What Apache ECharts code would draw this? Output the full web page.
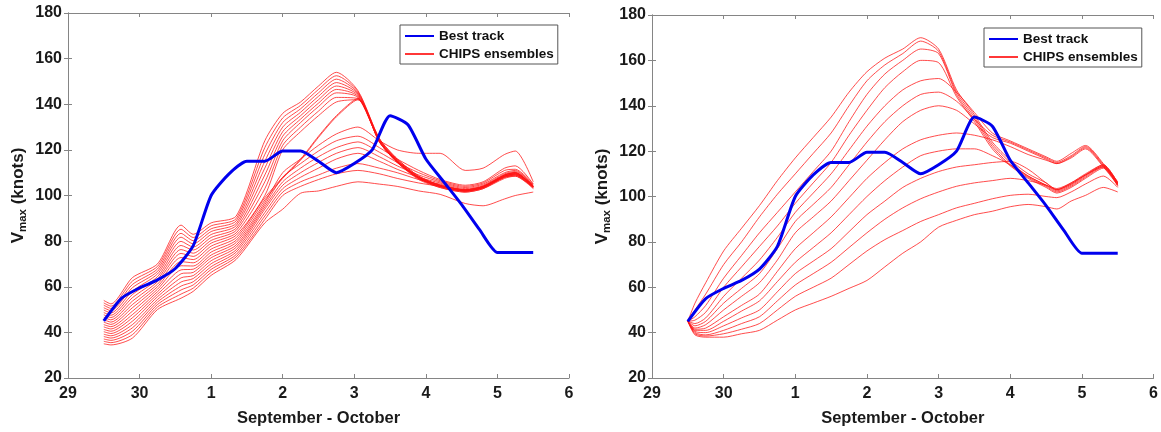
<!DOCTYPE html>
<html>
<head>
<meta charset="utf-8">
<script src="https://cdn.jsdelivr.net/npm/echarts@6/dist/echarts.min.js"></script>
<style>
html,body{margin:0;padding:0;background:#fff;}
#chart{width:1161px;height:432px;}
</style>
</head>
<body>
<div id="chart"></div>
<script>
// x values are days since 29 September 00:00
const X_TICK_LABELS = ['29', '30', '1', '2', '3', '4', '5', '6'];
const X_TITLE = 'September - October';

// Best track (same in both panels)
const BEST_T = [0.5, 0.75, 1.0, 1.25, 1.5, 1.75, 2.0, 2.25, 2.5, 2.75, 3.0, 3.25, 3.5, 3.75, 4.0, 4.25, 4.5, 4.75, 5.0, 5.25, 5.5, 5.75, 6.0, 6.25, 6.5];
const BEST_V = [45, 55, 59.5, 63, 68, 78, 100, 109.5, 115, 115, 119.5, 119.5, 115, 110, 114, 120, 135, 131, 116, 106, 96, 85, 75, 75, 75];

// Left panel CHIPS ensembles
const LEFT_T = [0.5, 0.6, 0.9, 1.25, 1.58, 1.75, 2.0, 2.35, 2.75, 3.0, 3.25, 3.5, 3.75, 4.05, 4.35, 4.6, 4.9, 5.2, 5.55, 5.8, 6.1, 6.25, 6.5];
const LEFT_RUNS = [
  [54, 52.5, 64, 70, 87, 83, 88, 91, 124, 136, 141, 148, 154, 146, 125, 116, 108.5, 104.5, 102.5, 104, 109, 110, 104],
  [52.9, 51.5, 62.5, 68.9, 85.2, 81.6, 86.7, 89.9, 121, 134, 139.5, 146.5, 152.5, 145.5, 125, 116, 108.5, 104.5, 102.5, 104, 109, 110, 104],
  [51.9, 50.5, 61, 67.8, 83.4, 80.2, 85.4, 88.9, 118, 132, 138, 145, 151, 145, 124.5, 115.5, 108, 104.5, 102.5, 104, 108.5, 109.5, 104],
  [50.8, 49.5, 59.6, 66.7, 81.7, 78.8, 84.2, 87.8, 115, 130, 136.5, 143.5, 149.5, 144.5, 124.5, 115.5, 108, 104, 102, 103.5, 108.5, 109.5, 104],
  [49.8, 48.5, 58.1, 65.6, 79.9, 77.4, 82.9, 86.8, 112, 128, 135, 142, 148, 144, 124, 115, 108, 104, 102, 103.5, 108.5, 109, 103.5],
  [48.7, 47.5, 56.6, 64.4, 78.1, 76.1, 81.6, 85.7, 109, 126, 133.5, 140.5, 146.5, 143.5, 124, 115, 107.5, 104, 102, 103.5, 108, 109, 103.5],
  [47.7, 46.5, 55.2, 63.3, 76.3, 74.7, 80.3, 84.7, 106, 124, 132, 139, 145, 143, 124, 115, 107.5, 104, 102, 103.5, 108, 109, 103.5],
  [46.6, 45.5, 53.7, 62.2, 74.6, 73.3, 79.1, 83.6, 103, 122, 130, 137, 143, 142.5, 123.5, 114.5, 107.5, 103.5, 101.5, 103, 108, 108.5, 103.5],
  [45.6, 44.5, 52.2, 61.1, 72.8, 71.9, 77.8, 82.6, 100, 120, 128, 135, 141, 142, 123.5, 114.5, 107, 103.5, 101.5, 103, 107.5, 108.5, 103],
  [44.5, 43.5, 50.8, 60, 71, 70.5, 76.5, 81.5, 99, 108, 116, 126, 135, 142.5, 124, 115, 108, 104.5, 102.5, 104, 109, 110, 104],
  [43.4, 42.5, 49.3, 58.9, 69.2, 69.1, 75.2, 80.4, 98, 107.5, 115.5, 125.5, 134.5, 142, 123.5, 114.5, 107.5, 104, 102, 103.5, 108.5, 109.5, 104],
  [42.4, 41.5, 47.8, 57.8, 67.4, 67.7, 73.9, 79.4, 97, 110, 116, 122, 127, 130, 124, 120, 118.5, 118.5, 111, 112, 118, 119.5, 106],
  [41.3, 40.5, 46.4, 56.7, 65.7, 66.3, 72.7, 78.3, 96, 108, 114, 119.5, 124, 126, 121, 116, 111, 107, 104.5, 106, 112, 113, 105],
  [40.3, 39.5, 44.9, 55.6, 63.9, 64.9, 71.4, 77.3, 95, 106, 112, 117, 121, 123.5, 119, 114.5, 110, 106.5, 104, 105.5, 111, 111.5, 105],
  [39.2, 38.5, 43.4, 54.4, 62.1, 63.6, 70.1, 76.2, 94, 104.5, 110, 114.5, 118.5, 121, 117, 113, 109, 106, 103.5, 105, 110, 111, 104.5],
  [38.2, 37.5, 42, 53.3, 60.3, 62.2, 68.8, 75.2, 92.5, 103, 108, 112, 116, 118.5, 115, 111.5, 108, 105.5, 103, 104.5, 109.5, 110.5, 104.5],
  [37.1, 36.5, 40.5, 52.2, 58.6, 60.8, 67.6, 74.1, 91, 101.5, 106, 109, 112, 114, 112, 110, 107, 105, 102.5, 104, 109, 110, 104],
  [36.1, 35.5, 39, 51.1, 56.8, 59.4, 66.3, 73.1, 89.5, 100, 104, 107, 109.5, 111, 109.5, 107.5, 105.5, 104, 102, 103.5, 108.5, 109.5, 104],
  [35, 34.5, 37.5, 50, 55, 58, 65, 72, 88, 94, 101, 102, 104, 106, 105, 104, 102, 100.5, 96.5, 95.5, 98.5, 100, 101.5]
];

// Right panel CHIPS ensembles
const RIGHT_T = [0.5, 0.6, 0.75, 1.0, 1.25, 1.5, 1.75, 2.0, 2.25, 2.5, 2.75, 3.0, 3.25, 3.5, 3.75, 4.0, 4.25, 4.5, 4.75, 5.0, 5.25, 5.5, 5.65, 5.85, 6.05, 6.3, 6.5];
const RIGHT_RUNS = [
  [45, 53, 62, 76, 86, 96, 107, 117, 126, 135, 146, 155, 161, 165, 170, 165, 147, 136, 124, 116, 110, 106, 103, 105.5, 109.5, 114, 106],
  [45, 50, 57, 70, 80, 91, 101, 110, 119, 128, 140, 151, 158, 163, 168.5, 164, 146, 135, 123, 115, 109, 105, 102.5, 105, 109, 113.5, 105.5],
  [45, 47, 52, 64, 74, 84, 93, 102, 111, 120, 133, 145, 154, 160, 165, 163, 145, 134, 122, 114, 108.5, 104.5, 102, 104.5, 108.5, 113, 105],
  [45, 45.5, 49, 60, 69, 78, 87, 97, 106, 115, 127, 138, 148, 155, 160, 159, 144, 133, 121, 113.5, 108, 104, 101.5, 104, 108, 112.5, 104.5],
  [45, 44, 46.5, 56, 64, 72, 82, 93, 101.5, 110, 120.5, 131, 140, 147, 151, 152, 146, 137, 128, 124.5, 121, 117.5, 115.5, 119, 122.5, 114.5, 106.5],
  [45, 43, 45, 53, 59.5, 66, 77, 89, 96.5, 104, 114, 124, 133, 140, 145, 146, 142, 134, 127, 124, 120.5, 117, 115, 118, 122, 114, 106],
  [45, 42, 43.5, 50, 56, 62, 72, 84, 91, 98, 107, 116, 125, 133, 138, 140, 138, 132, 126, 123.5, 120, 116.5, 114.5, 117.5, 121.5, 113.5, 105.5],
  [45, 41.5, 42, 47, 52, 57, 67, 77, 84, 91, 99.5, 108, 115, 121, 125, 127, 128, 127, 125, 122, 118.5, 116, 114.5, 117, 121, 113, 105],
  [45, 41, 41, 45, 49.5, 54, 62.5, 71, 77.5, 84, 92, 100, 107, 113, 118, 120, 121, 121, 118, 114, 109, 105, 103, 106, 110, 114, 106],
  [45, 40.5, 40, 43, 46.5, 50, 58, 66, 71.5, 77, 84.5, 92, 98, 104, 108, 111, 113, 114, 115, 115.5, 112, 106, 103, 105.5, 109.5, 113.5, 105.5],
  [45, 40, 39, 41, 44, 47, 54, 61, 66, 71, 77.5, 84, 90, 95, 99, 102, 104.5, 106, 107, 108, 107, 105, 103.5, 106, 109.5, 113, 105],
  [45, 39.5, 38.5, 39.5, 41.5, 44, 50, 56, 60, 64, 70, 76, 81, 85, 89, 92, 95, 97, 99, 100.5, 101, 100, 99.5, 102, 105.5, 109, 104],
  [45, 39, 38, 38, 39.5, 41, 45.5, 50, 53, 56, 59.5, 63, 69, 75, 80, 86.5, 89.5, 92, 93.5, 95.5, 96.5, 95.5, 94.5, 98, 100.5, 104, 102]
];

const FONT = '"Liberation Sans", Arial, sans-serif';
const AXIS_GRAY = '#858585';
const RED = 'rgba(255,20,20,0.85)';
const BLUE = '#0000ee';

function pairs(T, V) { return T.map((t, i) => [t, V[i]]); }

function xAxes(gridIndex) {
  return [
    {
      type: 'value', gridIndex, min: 0, max: 7, interval: 1,
      name: X_TITLE, nameLocation: 'middle', nameGap: 32,
      nameTextStyle: { fontFamily: FONT, fontWeight: 'bold', fontSize: 16.5, color: '#1a1a1a' },
      axisLine: { show: true, lineStyle: { color: AXIS_GRAY, width: 1 } },
      axisTick: { show: true, inside: true, length: 4, lineStyle: { color: AXIS_GRAY } },
      axisLabel: { fontFamily: FONT, fontWeight: 'bold', fontSize: 16, color: '#1a1a1a', margin: 8,
        formatter: v => X_TICK_LABELS[Math.round(v)] },
      splitLine: { show: false }
    },
    {
      type: 'value', gridIndex, position: 'top', min: 0, max: 7, interval: 1,
      axisLine: { show: true, lineStyle: { color: AXIS_GRAY, width: 1 } },
      axisTick: { show: true, inside: true, length: 4, lineStyle: { color: AXIS_GRAY } },
      axisLabel: { show: false }, splitLine: { show: false }
    }
  ];
}
function yAxes(gridIndex) {
  return [
    {
      type: 'value', gridIndex, min: 20, max: 180, interval: 20,
      name: '{a|V}{b|max}{a| (knots)}', nameLocation: 'middle', nameRotate: 90, nameGap: 39,
      nameTextStyle: { fontFamily: FONT, fontWeight: 'bold', color: '#1a1a1a',
        rich: {
          a: { fontFamily: FONT, fontWeight: 'bold', fontSize: 17, color: '#1a1a1a', lineHeight: 22 },
          b: { fontFamily: FONT, fontWeight: 'bold', fontSize: 11.5, color: '#1a1a1a', verticalAlign: 'bottom', lineHeight: 22 }
        } },
      axisLine: { show: true, lineStyle: { color: AXIS_GRAY, width: 1 } },
      axisTick: { show: true, inside: true, length: 4, lineStyle: { color: AXIS_GRAY } },
      axisLabel: { fontFamily: FONT, fontWeight: 'bold', fontSize: 16, color: '#1a1a1a', margin: 6 },
      splitLine: { show: false }
    },
    {
      type: 'value', gridIndex, position: 'right', min: 20, max: 180, interval: 20,
      axisLine: { show: true, lineStyle: { color: AXIS_GRAY, width: 1 } },
      axisTick: { show: true, inside: true, length: 4, lineStyle: { color: AXIS_GRAY } },
      axisLabel: { show: false }, splitLine: { show: false }
    }
  ];
}

const series = [];
function addPanel(T, runs, axisIdx) {
  runs.forEach(run => {
    series.push({
      type: 'line', name: 'CHIPS ensembles', xAxisIndex: axisIdx, yAxisIndex: axisIdx,
      data: pairs(T, run), symbol: 'none', smooth: 0.25, silent: true,
      lineStyle: { color: RED, width: 0.9 }, itemStyle: { color: RED }, z: 2
    });
  });
  series.push({
    type: 'line', name: 'Best track', xAxisIndex: axisIdx, yAxisIndex: axisIdx,
    data: pairs(BEST_T, BEST_V), symbol: 'none', smooth: 0.2, silent: true,
    lineStyle: { color: BLUE, width: 3 }, itemStyle: { color: BLUE }, z: 5
  });
}
addPanel(LEFT_T, LEFT_RUNS, 0);
addPanel(RIGHT_T, RIGHT_RUNS, 2);

function legendAt(left, top) {
  return {
    data: ['Best track', 'CHIPS ensembles'], orient: 'vertical', left, top,
    backgroundColor: '#fff', borderColor: '#555', borderWidth: 1, borderRadius: 0,
    padding: [4, 4, 3, 4], itemGap: 4, itemWidth: 29, itemHeight: 14,
    itemStyle: { opacity: 0 },
    textStyle: { fontFamily: FONT, fontWeight: 'bold', fontSize: 13.5, color: '#111' },
    selectedMode: false
  };
}

const chart = echarts.init(document.getElementById('chart'), null, { renderer: 'canvas' });
chart.setOption({
  animation: false,
  backgroundColor: '#fff',
  grid: [
    { left: 68, top: 13, right: 592, bottom: 54, show: false },
    { left: 652, top: 15, right: 7, bottom: 50, show: false }
  ],
  legend: [legendAt(400, 25), legendAt(984, 28)],
  xAxis: [...xAxes(0), ...xAxes(1)],
  yAxis: [...yAxes(0), ...yAxes(1)],
  series
});
</script>
</body>
</html>
